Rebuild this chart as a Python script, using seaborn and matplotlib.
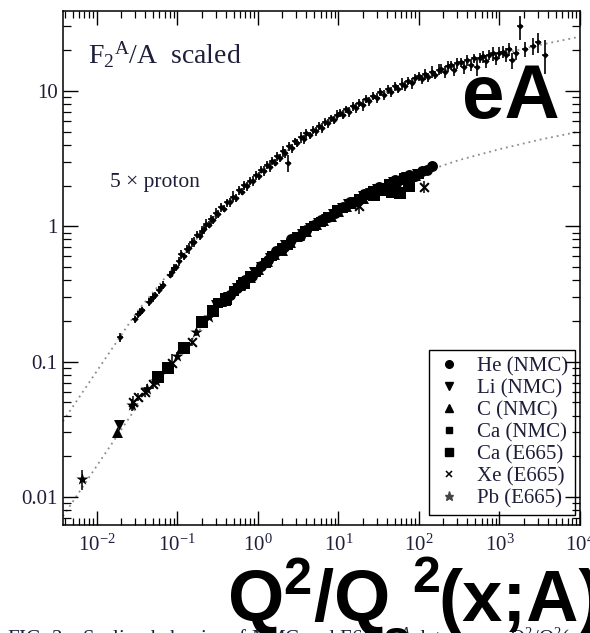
import numpy as np
import pandas as pd
import matplotlib
matplotlib.use("Agg")
import matplotlib.pyplot as plt
from matplotlib.lines import Line2D
from matplotlib import ticker
import seaborn as sns

# ---- fitted scaling curve (nuclear data, and proton data scaled by 5) ----
fit_tau = [0.00380, 0.01, 0.0316, 0.1, 0.316, 1, 3.16, 10, 31.6, 100, 316, 1000, 3160, 9770]
fit_nuclear = [0.0072, 0.0170, 0.0468, 0.107, 0.251, 0.479, 0.851, 1.318, 1.862, 2.455, 3.090, 3.715, 4.365, 5.012]
fit_proton5 = [0.0363, 0.0851, 0.234, 0.537, 1.259, 2.399, 4.266, 6.607, 9.333, 12.30, 15.49, 18.62, 21.88, 25.12]

# ---- proton F2 (x5) ----
proton_tau = [0.0195, 0.030, 0.032, 0.034, 0.036, 0.044, 0.047, 0.050, 0.053, 0.060, 0.063, 0.066, 0.080, 0.085, 0.090, 0.095,
              0.105, 0.112, 0.12, 0.13, 0.14, 0.15, 0.16, 0.175, 0.19, 0.20, 0.215, 0.23, 0.245, 0.26, 0.28, 0.30, 0.32, 0.35,
              0.38, 0.41, 0.45, 0.49, 0.53, 0.58, 0.63, 0.68, 0.74, 0.80, 0.87, 0.94,
              1.02, 1.1, 1.2, 1.3, 1.4, 1.5, 1.62, 1.75, 1.9, 2.05, 2.2, 2.4, 2.45, 2.65, 2.9, 3.1, 3.4, 3.7, 4.0, 4.4,
              4.8, 5.2, 5.7, 6.2, 6.8, 7.4, 8.1, 8.9, 9.6,
              10.5, 11.5, 12.5, 13.5, 15, 16.5, 18, 20, 22, 24, 27, 30, 33, 37, 41, 45, 50, 55, 61, 67, 74, 82, 90,
              100, 110, 120, 130, 145, 160, 175, 190, 210, 230, 250, 275, 300, 330, 360, 400, 440, 480, 520, 570,
              620, 680, 750, 820, 900, 990,
              1100, 1200, 1320, 1450, 1600, 1780, 2100, 2600, 3000, 3650]
proton_f2 = [0.152, 0.205, 0.225, 0.232, 0.240, 0.275, 0.290, 0.300, 0.310, 0.340, 0.355, 0.370, 0.440, 0.460, 0.490, 0.500,
             0.55, 0.62, 0.60, 0.68, 0.69, 0.76, 0.77, 0.87, 0.85, 0.93, 0.95, 1.04, 1.03, 1.13, 1.12, 1.25, 1.24, 1.38,
             1.35, 1.50, 1.50, 1.66, 1.63, 1.84, 1.80, 2.01, 1.98, 2.18, 2.17, 2.38,
             2.36, 2.62, 2.58, 2.86, 2.76, 3.06, 2.96, 3.30, 3.22, 3.58, 3.46, 2.95, 3.90, 3.78, 4.26, 4.12, 4.56, 4.40, 4.86, 4.70,
             5.14, 5.04, 5.50, 5.34, 5.90, 5.76, 6.30, 6.12, 6.66,
             6.9, 6.7, 7.3, 7.0, 7.7, 7.5, 8.2, 7.9, 8.7, 8.4, 9.2, 8.9, 9.8, 9.4, 10.3, 9.9, 10.8, 10.4, 11.3, 10.9, 11.9, 11.4, 12.4,
             12.8, 12.2, 13.3, 12.6, 13.9, 13.1, 14.4, 14.6, 13.8, 15.2, 15.5, 14.4, 16.0, 16.3, 15.1, 16.9, 15.6, 17.4, 15.0, 17.6,
             18.0, 16.6, 18.5, 19.0, 17.4, 19.2,
             19.5, 18.5, 20.5, 16.8, 19.2, 30.0, 20.5, 21.5, 23.0, 18.5]
proton_err_pct = [8, 6, 6, 7, 6, 7, 6, 8, 6, 7, 6, 7, 6, 8, 7, 6,
                  7, 8, 6, 7, 9, 7, 8, 6, 7, 8, 7, 9, 6, 8, 7, 10, 7, 8, 6, 7, 8, 9, 7, 8, 6, 7, 8, 7, 9, 7,
                  7, 6, 8, 7, 9, 7, 6, 8, 7, 9, 7, 15, 7, 8, 6, 7, 9, 7, 8, 6, 7, 8, 7, 9, 7, 8, 6, 7, 8,
                  7, 8, 6, 9, 7, 8, 7, 10, 7, 8, 6, 9, 7, 8, 7, 9, 8, 7, 10, 8, 7, 9, 8,
                  8, 7, 9, 8, 10, 7, 9, 8, 10, 9, 8, 10, 9, 8, 11, 9, 10, 8, 14, 9, 10, 11, 9, 12, 10, 11,
                  10, 12, 11, 14, 12, 20, 13, 14, 17, 28]

# ---- nuclear F2/A ----
he_tau = [0.45, 0.7, 1.1, 1.7, 2.6, 4.0, 6.0, 9.0, 14, 21, 32, 50, 75, 110, 145,
          0.55, 0.85, 1.35, 2.1, 3.3, 5.0, 7.5, 11.5, 17, 26, 40, 62, 90, 125]
he_f2 = [0.31, 0.40, 0.51, 0.66, 0.80, 0.94, 1.11, 1.26, 1.52, 1.74, 1.96, 2.20, 2.40, 2.55, 2.80,
         0.35, 0.43, 0.56, 0.70, 0.85, 1.03, 1.17, 1.40, 1.53, 1.78, 1.94, 2.22, 2.36, 2.60]
li_tau = [0.019, 0.3, 0.55, 0.9, 1.4, 2.2, 3.5, 5.5, 8.5, 13, 20, 30, 48, 70, 95,
          0.42, 0.7, 1.1, 1.8, 2.8, 4.5, 7, 11, 16.5, 25, 38, 58]
li_f2 = [0.034, 0.26, 0.35, 0.46, 0.58, 0.73, 0.88, 1.05, 1.23, 1.45, 1.68, 1.90, 2.12, 2.30, 2.42,
         0.30, 0.39, 0.50, 0.65, 0.79, 0.98, 1.14, 1.37, 1.52, 1.75, 1.93, 2.14]
c_tau = [0.0178, 0.35, 0.6, 1.0, 1.6, 2.5, 4.0, 6.5, 10, 16, 25, 40, 60, 90,
         0.8, 1.3, 2.0, 3.2, 5.2, 8, 12.5, 20, 32, 50, 75]
c_f2 = [0.030, 0.28, 0.37, 0.48, 0.62, 0.77, 0.93, 1.12, 1.30, 1.55, 1.78, 2.03, 2.22, 2.38,
        0.42, 0.55, 0.67, 0.86, 1.04, 1.20, 1.42, 1.62, 1.88, 2.07, 2.28]
ca_nmc_tau = [0.32, 0.5, 0.8, 1.25, 2.0, 3.1, 5.0, 7.5, 11.5, 18, 27, 42, 65, 100,
              0.4, 0.62, 0.95, 1.5, 2.4, 3.8, 6, 9.5, 14.5, 22, 34, 52, 80]
ca_nmc_f2 = [0.27, 0.33, 0.43, 0.54, 0.69, 0.83, 1.00, 1.17, 1.36, 1.60, 1.82, 2.05, 2.28, 2.45,
             0.28, 0.37, 0.46, 0.60, 0.73, 0.93, 1.07, 1.32, 1.46, 1.70, 1.86, 2.12, 2.30]
ca_e665_tau = [0.058, 0.077, 0.12, 0.2, 0.28, 0.4, 0.67, 28, 37, 46, 58, 75]
ca_e665_f2 = [0.077, 0.090, 0.126, 0.195, 0.235, 0.29, 0.38, 1.70, 1.85, 1.79, 1.75, 2.00]
xe_tau = [0.028, 0.032, 0.040, 0.050, 0.085, 0.15, 18, 115]
xe_f2 = [0.050, 0.055, 0.060, 0.068, 0.098, 0.14, 1.42, 1.95]
xe_err = [0.006, 0.004, 0.005, 0.005, 0.015, 0.010, 0.18, 0.20]
pb_tau = [0.0065, 0.027, 0.042, 0.055, 0.10, 0.17, 0.25]
pb_f2 = [0.0135, 0.048, 0.063, 0.072, 0.11, 0.165, 0.215]
pb_err = [0.0022, 0.005, 0.005, 0.005, 0.008, 0.010, 0.012]

legend_labels = ["He (NMC)", "Li (NMC)", "C (NMC)", "Ca (NMC)", "Ca (E665)", "Xe (E665)", "Pb (E665)"]
xtick_vals = [1e-2, 1e-1, 1e0, 1e1, 1e2, 1e3, 1e4]
xtick_labels = [r"$\mathregular{10^{-2}}$", r"$\mathregular{10^{-1}}$", r"$\mathregular{10^{0}}$",
                r"$\mathregular{10^{1}}$", r"$\mathregular{10^{2}}$", r"$\mathregular{10^{3}}$",
                r"$\mathregular{10^{4}}$"]
ytick_vals = [0.01, 0.1, 1, 10]
ytick_labels = ["0.01", "0.1", "1", "10"]

sns.set_theme(style="ticks")
plt.rcParams.update({
    "font.family": ["Liberation Serif", "DejaVu Serif"],
    "mathtext.fontset": "custom",
    "mathtext.rm": "Liberation Serif",
    "mathtext.it": "Liberation Serif:italic",
    "mathtext.bf": "Liberation Sans:bold",
    "axes.linewidth": 1.1,
    "axes.edgecolor": "black",
    "xtick.direction": "in", "ytick.direction": "in",
    "xtick.top": True, "ytick.right": True,
    "xtick.major.size": 10, "xtick.minor.size": 5,
    "ytick.major.size": 11, "ytick.minor.size": 5.5,
    "xtick.major.width": 1.0, "xtick.minor.width": 0.9,
    "ytick.major.width": 1.0, "ytick.minor.width": 0.9,
    "xtick.color": "black", "ytick.color": "black",
    "xtick.labelcolor": "#1e1e3a", "ytick.labelcolor": "#1e1e3a",
    "xtick.labelsize": 15, "ytick.labelsize": 15,
})

fig = plt.figure(figsize=(5.90, 6.33), dpi=100)
ax = fig.add_axes([63 / 590, 1 - 525 / 633, 517 / 590, 514 / 633])
ax.set_xscale("log")
ax.set_yscale("log")

# dotted fit curves
curve_style = dict(color="#8c8c8c", linestyle=(0, (1, 2.2)), linewidth=1.3, zorder=1)
sns.lineplot(x=fit_tau, y=fit_proton5, ax=ax, **curve_style)
sns.lineplot(x=fit_tau, y=fit_nuclear, ax=ax, **curve_style)

# proton data with error bars
proton_abs_err = [f * p / 100 for f, p in zip(proton_f2, proton_err_pct)]
ax.errorbar(proton_tau, proton_f2, yerr=proton_abs_err, fmt="none", ecolor="black",
            elinewidth=1.2, capsize=0, zorder=2)
sns.scatterplot(x=proton_tau, y=proton_f2, ax=ax, marker="D", s=8, color="black",
                edgecolor="black", linewidth=0.3, zorder=3, legend=False)
sns.scatterplot(x=proton_tau, y=proton_f2, ax=ax, marker="_", s=22, color="black",
                linewidth=1.1, zorder=3, legend=False)

# nuclear data sets
ax.errorbar(xe_tau, xe_f2, yerr=xe_err, fmt="none", ecolor="black", elinewidth=1.1, capsize=0, zorder=2)
ax.errorbar(pb_tau, pb_f2, yerr=pb_err, fmt="none", ecolor="black", elinewidth=1.1, capsize=0, zorder=2)

series = [
    (he_tau, he_f2, "o", 62, 0.0),
    (li_tau, li_f2, "v", 62, 0.0),
    (c_tau, c_f2, "^", 62, 0.0),
    (ca_nmc_tau, ca_nmc_f2, "s", 44, 0.0),
    (ca_e665_tau, ca_e665_f2, "s", 66, 0.0),
    (xe_tau, xe_f2, "x", 40, 1.5),
    (pb_tau, pb_f2, "*", 85, 0.0),
]
for tau, f2, mk, size, lw in series:
    sns.scatterplot(x=tau, y=f2, ax=ax, marker=mk, s=size, color="black",
                    edgecolor="black", linewidth=lw, zorder=3, legend=False)

ax.set_xlim(10 ** -2.42, 10 ** 3.99)
ax.set_ylim(10 ** -2.207, 10 ** 1.591)
ax.set_xticks(xtick_vals)
ax.set_xticklabels(xtick_labels)
ax.set_yticks(ytick_vals)
ax.set_yticklabels(ytick_labels)
ax.xaxis.set_minor_locator(ticker.LogLocator(base=10, subs=np.arange(2, 10), numticks=20))
ax.yaxis.set_minor_locator(ticker.LogLocator(base=10, subs=np.arange(2, 10), numticks=20))
ax.xaxis.set_minor_formatter(ticker.NullFormatter())
ax.yaxis.set_minor_formatter(ticker.NullFormatter())
ax.tick_params(axis="x", which="major", pad=7)
ax.tick_params(axis="y", which="major", pad=4)
ax.set_axisbelow(False)
ax.set_xlabel("")
ax.set_ylabel("")

# in-plot annotations
ax.text((88 - 63) / 517, (525 - 64) / 514, r"F$_\mathrm{2}{}^\mathrm{A}$/A  scaled",
        transform=ax.transAxes, fontsize=20, color="#1e1e3a", ha="left", va="baseline")
ax.text((110 - 63) / 517, (525 - 183) / 514, "5 × proton",
        transform=ax.transAxes, fontsize=15.5, color="#1e1e3a", ha="left", va="center")

# legend
handles = [
    Line2D([0], [0], marker="o", ls="none", color="black", markersize=5.5),
    Line2D([0], [0], marker="v", ls="none", color="black", markersize=5.5),
    Line2D([0], [0], marker="^", ls="none", color="black", markersize=5.5),
    Line2D([0], [0], marker="s", ls="none", color="black", markersize=4.6),
    Line2D([0], [0], marker="s", ls="none", color="black", markersize=5.8),
    Line2D([0], [0], marker="x", ls="none", color="black", markersize=4.2, markeredgewidth=1.1),
    Line2D([0], [0], marker="*", ls="none", color="#444444", markersize=6.5),
]
leg = ax.legend(handles, legend_labels, loc="lower right", bbox_to_anchor=(0.990, 0.0195),
                frameon=True, fancybox=False, edgecolor="black", framealpha=1, fontsize=15,
                handlelength=1.36, handletextpad=0.68, borderpad=0.3, labelspacing=0.12,
                borderaxespad=0)
leg.get_frame().set_linewidth(1.0)
for t in leg.get_texts():
    t.set_color("#1e1e3a")
leg.set_zorder(2.4)

# caption line along the bottom edge
fig.text(7 / 590, 1 - 625 / 633,
         "FIG. 3.   Scaling behavior of NMC and E665 F$_2^A$ data vs τ = Q$^2$/Q$_s^2$(x;A)",
         fontsize=15, color="#1e1e3a", ha="left", va="top")

# large overlay labels
big = dict(fontfamily="Liberation Sans", fontweight="bold", color="black", zorder=5)
fig.text(462 / 590, 1 - 118 / 633, "eA", fontsize=55, ha="left", va="baseline", **big)
fig.text(227 / 590, 1 - 621 / 633, r"$\mathbf{Q^2/Q}$", fontsize=52, color="black",
         ha="left", va="baseline", zorder=5)
fig.text(382 / 590, 1 - 655 / 633, "s", fontsize=36, ha="left", va="baseline", **big)
fig.text(412 / 590, 1 - 592 / 633, "2", fontsize=36, ha="left", va="baseline", **big)
fig.text(438 / 590, 1 - 621 / 633, "(x;A)", fontsize=52, ha="left", va="baseline", **big)

fig.savefig("out.png", dpi=100)
